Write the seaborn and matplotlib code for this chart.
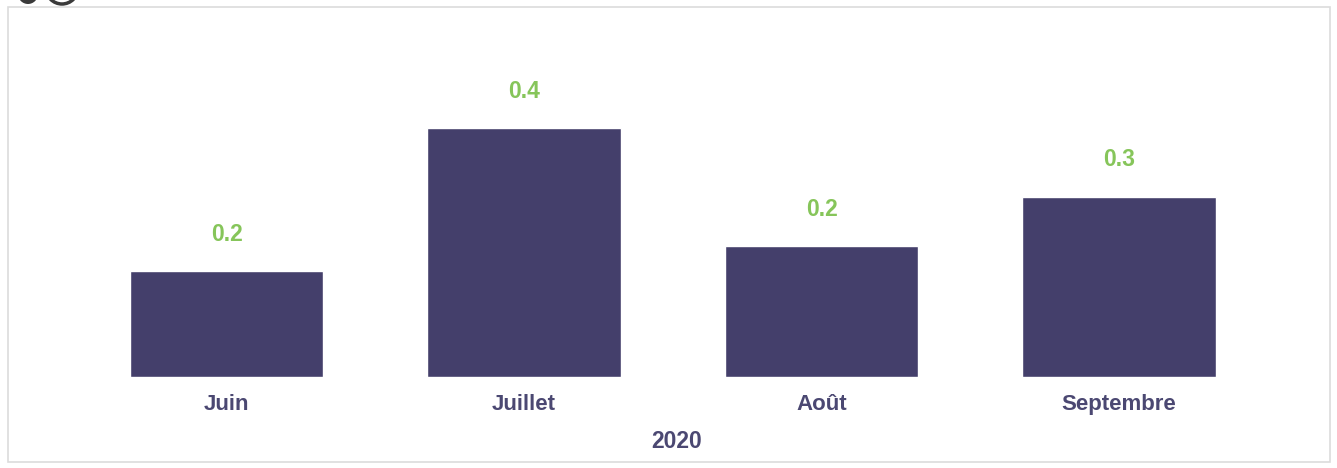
import pandas as pd
import matplotlib
matplotlib.use('Agg')
import matplotlib.pyplot as plt
import seaborn as sns
from matplotlib.patches import Rectangle, Circle

# Données
mois = ['Juin', 'Juillet', 'Août', 'Septembre']
valeurs = [0.17, 0.40, 0.21, 0.29]
etiquettes = ['0.2', '0.4', '0.2', '0.3']
annee = '2020'

df = pd.DataFrame({'mois': mois, 'valeur': valeurs})

sns.set_theme(style="white")
plt.rcParams['font.family'] = ['Liberation Sans', 'DejaVu Sans']

couleur_barre = '#443f6b'
couleur_texte = '#4b4872'
couleur_vert = '#86c55a'

fig = plt.figure(figsize=(13.37, 4.68), dpi=100)
ax = fig.add_axes([0.0583, 0.1944, 0.890, 0.6645])

sns.barplot(data=df, x='mois', y='valeur', color=couleur_barre,
            width=0.65, saturation=1, ax=ax)

for i, (v, t) in enumerate(zip(valeurs, etiquettes)):
    ax.annotate(t, (i, v), xytext=(0, 18.5), textcoords='offset points',
                ha='center', va='bottom', fontsize=16.5, fontweight='bold',
                color=couleur_vert)

ax.set_xlim(-0.5, 3.5)
ax.set_ylim(0, 0.5)
ax.set_yticks([])
ax.set_ylabel('')
ax.set_xlabel('')
ax.tick_params(axis='x', length=0, pad=12)
for lbl in ax.get_xticklabels():
    lbl.set_fontsize(16)
    lbl.set_fontweight('bold')
    lbl.set_color(couleur_texte)
for s in ax.spines.values():
    s.set_visible(False)

# année sous les mois
fig.text(677 / 1337, 1 - 441 / 468, annee, ha='center', va='center',
         fontsize=16.5, fontweight='bold', color=couleur_texte)

# cadre gris clair
fig.patches.append(Rectangle((8 / 1337, 1 - 462 / 468), 1322 / 1337, 455 / 468,
                             transform=fig.transFigure, fill=False,
                             edgecolor='#dcdcdc', linewidth=1.2))

# morceau de logo coupé en haut à gauche
fig.patches.append(Circle((28, 468 + 6), 10, transform=None,
                          facecolor='#3a3a3a', edgecolor='none'))
fig.patches.append(Circle((62, 468 + 12), 16, transform=None,
                          fill=False, edgecolor='#3a3a3a', linewidth=2.5))

fig.savefig('out.png', dpi=100, facecolor='white')
